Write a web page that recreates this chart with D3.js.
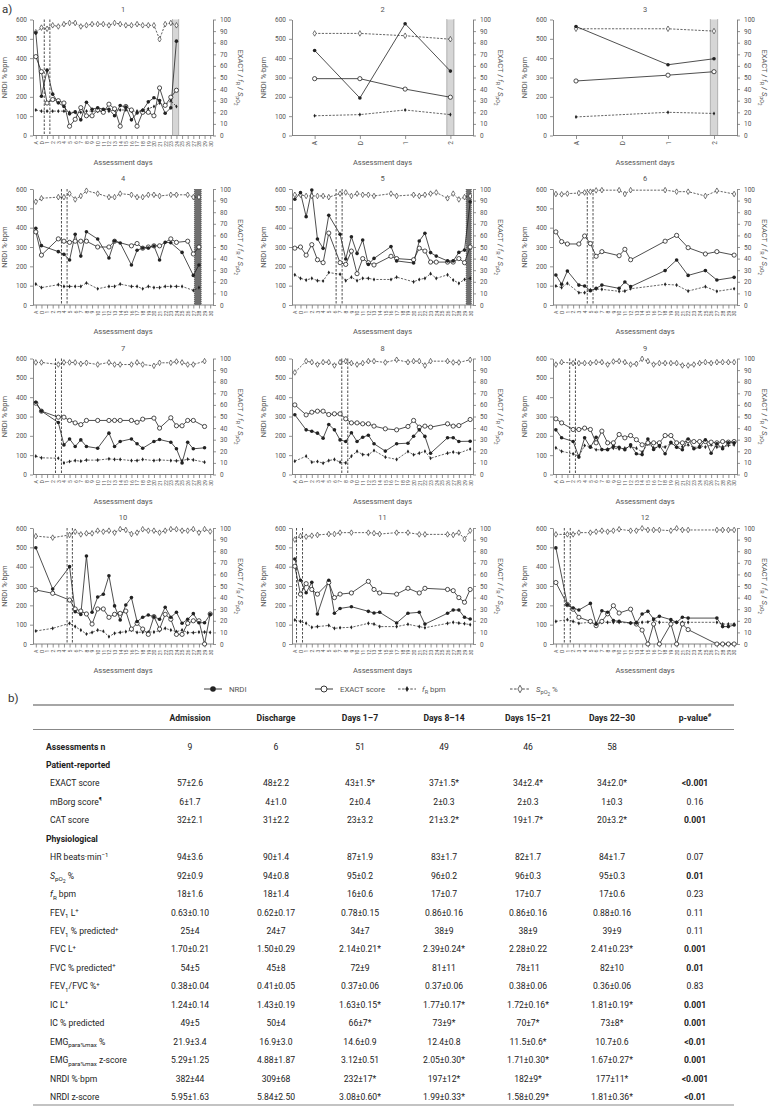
<!DOCTYPE html>
<html><head><meta charset="utf-8">
<script src="https://cdn.jsdelivr.net/npm/d3@7"></script>
<style>body{margin:0;background:#fff}svg{display:block}text{font-family:Roboto,"Noto Sans",sans-serif}</style>
</head><body><svg id="c" width="771" height="1112"></svg>
<script>
// ---------- categories ----------
const catsFull = ["A","D","1","2","3","4","5","6","7","8","9","10","11","12","13","14","15","16","17","18","19","20","21","22","23","24","25","26","27","28","29","30"];
const catsShort = ["A","D","1","2"];
const nrdiTicks = [0,100,200,300,400,500,600];
const rightTicks = [0,10,20,30,40,50,60,70,80,90,100];

// ---------- panel data ----------
const p1Days = ["A","D",1,2,3,4,5,6,7,8,9,10,11,12,13,14,15,16,17,18,19,20,21,22,23,24];
const p1Nrdi = [531,203,338,214,169,150,112,122,81,172,136,143,136,136,102,155,147,81,117,130,174,195,181,115,143,488];
const p1Exact = [68,55,28,31,30,28,8,14,24,17,17,22,20,27,23,8,25,22,8,20,20,17,41,26,33,39];
const p1Fr = [22,21,21,21,21,21,20,20,20,21,21,21,21,21,22,22,22,21,21,22,23,25,28,26,30,25];
const p1Spo2 = [89,93,92,95,94,96,97,97,94,95,96,96,96,95,97,96,95,95,96,95,95,95,83,96,97,95];

const p2Days = ["A","D",1,2];
const p2Nrdi = [440,194,578,333];
const p2Exact = [49,49,40,33];
const p2Fr = [17,18,22,18];
const p2Spo2 = [88,88,86,83];

const p3Days = ["A",1,2];
const p3Nrdi = [564,366,397];
const p3Exact = [47,52,55];
const p3Fr = [16,20,19];
const p3Spo2 = [92,92,90];

const p4Days = ["A","D",3,4,5,6,7,8,10,12,13,14,16,17,18,19,20,21,22,23,24,25,26,27,28];
const p4Nrdi = [397,307,276,262,233,366,253,379,341,243,331,321,207,283,295,295,305,233,324,322,null,272,null,153,207];
const p4Exact = [63,43,57,55,54,55,55,55,50,50,55,null,51,53,49,50,51,51,null,57,54,null,55,44,50];
const p4Fr = [18,15,17.5,16,16,16,16,19,14,16,16,18,16,16,14,16,15,15,16,16,16,16,null,12.6,15];
const p4Spo2 = [89,92,93,93,96,91,94,98.5,96,93,93,96,95,93,93,95,95,94,null,95,95,null,95,93,93];

const p5Days = ["A","D",1,2,3,4,5,7,8,9,10,11,12,13,16,17,20,21,22,23,24,26,27,28,29,30];
const p5Nrdi = [547,581,457,595,341,293,464,366,238,353,267,336,210,241,302,228,217,331,371,271,253,228,228,272,284,534];
const p5Exact = [49,50,43,52,39,36.5,62,36.5,35,46.5,27,40,36.5,34.5,42,40,39,49,46.5,37,37,37,37,40,36.5,50];
const p5Fr = [26,23,21.5,23,21,20.7,28,26.5,21,24,21,23,23,22,22,24,20,22,23,27,23,26,21.5,18.7,22,23];
const p5Spo2 = [95,95,94,94,94,94,93,96,97,94,96,95,95,94,96,94,95,94,95,96,97,92,96,91,93,94];

const p6Days = ["A","D",1,3,4,5,6,7,10,11,12,18,20,22,25,27,30];
const p6Nrdi = [155,107,176,103,98,74,86,103,86,119,95,178,233,153,178,129,143];
const p6Exact = [63,54.6,52.6,52.6,59.5,53,42,46,42.5,48,39,55,60,49.4,44,46,43];
const p6Fr = [16.4,15,18.7,10.6,10.6,13,13.8,13.5,11.8,12,14,17.8,17.2,12,15.8,11.8,14];
const p6Spo2 = [95.7,95.4,96,96.5,97,97.7,98.8,99,99,95.7,99,99,97.7,97.7,94,98.5,95.7];

const p7Days = ["A","D",3,4,5,6,7,8,10,12,13,14,16,17,18,20,21,23,24,25,26,27,29];
const p7Nrdi = [374,328,269,153,184,145,179,145,136,214,145,171,184,159,136,171,181,167,133,60,167,133,138];
const p7Exact = [61.5,54.6,49.4,49.4,46.6,44.5,43,46.6,46.6,46.6,46.6,46.6,46.6,45,47.7,48.6,40,48.9,42,42,46.6,46.6,41.4];
const p7Fr = [15.8,14.4,14,10,11.2,12,11.5,12.4,12.4,13.5,13,13,12,12,13,12,12.6,12,11.8,12,13.2,12.6,10.6];
const p7Spo2 = [96.6,96.6,94.8,96.6,96.6,96.6,95.4,96.3,94.8,96.6,94.8,94.8,94.8,96.6,94.8,93.7,96.3,96.3,97.4,96.6,94.8,94.8,97.7];

const p8Days = ["A",1,2,3,4,5,6,7,8,9,10,11,12,13,15,17,19,20,21,22,23,26,27,28,30];
const p8Nrdi = [309,231,224,214,188,259,231,179,171,216,171,193,203,159,121,159,162,198,231,197,110,190,190,171,172];
const p8Exact = [60,51.4,53.7,54.6,54.6,51.7,52.3,52.3,48,44.5,44.5,43.7,43.7,41.7,39.4,38.5,41.4,46.6,40.8,41.7,40.8,43.7,41.7,42.2,47.4];
const p8Fr = [11.5,15.8,10.6,11.2,9.8,12,13,10.6,10,15.8,20,17.2,17,20.7,15,13,19.8,17,18.4,20,14,18.4,19.3,18.4,22];
const p8Spo2 = [88,97.7,96.8,94.8,96.8,96.8,94,96.8,97.7,96,94.8,96,97.7,97.7,96.6,98.9,96.8,97.7,97.7,94,97.7,97.7,96.6,96.6,98.9];

const p9Days = ["A","D",2,3,4,5,6,7,8,9,10,11,12,13,14,15,16,17,18,19,20,21,22,23,24,25,26,27,28,29,30];
const p9Nrdi = [231,190,171,90,190,141,193,129,128,145,141,128,153,107,103,184,129,150,107,167,141,128,184,133,141,179,110,159,133,164,164];
const p9Exact = [48,44.5,38.8,38.8,40,38.8,27.3,37.4,27.3,27.3,34.5,31.6,33.6,30,25.6,27.3,27.3,27.3,33.6,33.6,27.3,27.3,29.3,28.4,28.4,28.4,27.9,27.3,28.4,27.9,28.4];
const p9Fr = [23,20,17.8,15.8,25,24,21.3,21.3,22,22.7,22,22.7,24,22.7,19.3,26.4,23,24,23.6,27,23.6,24,25.6,23,25,23.6,25.6,23.6,24,25,25.6];
const p9Spo2 = [94.8,96.8,96,96,96,96,96.8,96.8,94.8,97.4,97.7,96.8,94.8,95.4,99.7,97.7,94.8,96,96,96,96,94,94,94.8,96,96.8,96,96.8,96.8,96.8,96.8];

const p10Days = ["A",2,5,6,7,8,9,10,11,12,13,14,15,16,17,18,19,20,21,22,23,24,25,26,27,28,29,30];
const p10Nrdi = [498,284,400,167,153,455,164,243,257,353,197,124,202,240,116,138,150,141,128,190,138,164,107,128,157,110,110,153];
const p10Exact = [46.6,43.7,37.9,30.2,28.4,25.9,17.2,30.2,30.2,23,25.6,26.4,28.4,12.9,17.8,12.9,8.3,23.6,12.9,25.6,21.3,8.3,8.3,17.8,20,20,0,25.9];
const p10Fr = [11.2,13.5,17.8,15,12,8.6,10,12,11,6.3,9.2,10,10.6,12,10,10.3,10.3,10.3,11.5,13.5,12,10.6,12,9.8,9.8,10.3,10.3,10];
const p10Spo2 = [93,91.7,94,96.8,94.5,95.4,95.4,97.7,96.8,97.7,96,99,98.3,94.8,96,98.9,97.7,97.7,96,97.7,99,98.9,97.7,97.7,99,96,99,97];

const p11Days = ["A","D",1,2,3,5,6,7,9,12,13,14,17,19,21,22,26,27,28,29,30];
const p11Nrdi = [440,330,265,319,155,330,159,184,193,169,160,164,109,159,164,103,159,176,176,138,129];
const p11Exact = [67,43,52,47,43,53,40,43,44,54,47,44,43,48,44,48,47,46,40,36,47];
const p11Fr = [20.7,19.5,17.8,14.4,15,16,13.5,14,14.4,17.8,17.2,15,15,17,15,14,17.8,18.7,18,17.5,16.7];
const p11Spo2 = [90,93,92.5,93.4,94,94.8,94.8,96,96,96,95.5,94.8,96,96,94.5,94.5,94.5,94,96,90.5,97.7];

const p12Days = ["A",1,2,3,5,6,7,8,9,10,12,13,14,15,16,17,19,20,21,22,27,28,29,30];
const p12Nrdi = [497,203,186,176,210,103,172,164,121,117,109,109,155,169,129,143,126,112,138,134,134,90,90,98];
const p12Exact = [53,34,30,23,19.5,15.8,19.5,26,33,26.7,30,17.2,12,0,17.2,0,17.2,0,17.2,12.4,0,0,0,0];
const p12Fr = [19.5,21,19.5,17.8,18.7,17.8,18.7,18.7,18.7,18.7,18,18.7,18.7,19,20.7,18.7,18.7,18.7,18.7,18.7,18.7,17.2,17.2,17.2];
const p12Spo2 = [94.5,94.5,94.5,96,96,96.8,97.7,96.8,97.7,98.9,97.7,97.7,99.7,98.3,98.3,98.3,97.7,99.7,98.3,98.3,98.3,98.3,98.3,98.3];

// vertical event lines (fractional category index) and shaded periods
const eventLines = [[1.5,2.5],[],[],[4.56,5.56],[7.3,8.36],[5.46,6.46],[3.5,4.56],[8.3,9.36],[2.4,3.4],[5.56,6.5],[0.3,1.36],[1.47,2.5]];
const bands = [[24.3,25.4],[2.92,3.08],[2.92,3.08],[28.2,29.4],[30.3,31.2],null,null,null,null,null,null,null];
const bandDark = [false,false,false,true,true,false,false,false,false,false,false,false];

// ---------- table data ----------
const tableHeaders = ["Admission","Discharge","Days 1–7","Days 8–14","Days 15–21","Days 22–30","p-value#"];
const tableRows = [
  {label:[["Assessments n"]], bold:true, vals:["9","6","51","49","46","58",""]},
  {label:[["Patient-reported"]], bold:true, vals:null},
  {label:[["EXACT score"]], vals:["57±2.6","48±2.2","43±1.5*","37±1.5*","34±2.4*","34±2.0*","<0.001"], sig:true},
  {label:[["mBorg score"],["¶","sup"]], vals:["6±1.7","4±1.0","2±0.4","2±0.3","2±0.3","1±0.3","0.16"]},
  {label:[["CAT score"]], vals:["32±2.1","31±2.2","23±3.2","21±3.2*","19±1.7*","20±3.2*","0.001"], sig:true},
  {label:[["Physiological"]], bold:true, vals:null},
  {label:[["HR beats·min"],["−1","sup"]], vals:["94±3.6","90±1.4","87±1.9","83±1.7","82±1.7","84±1.7","0.07"]},
  {label:[["S","i"],["pO","sub"],["2","subsub"],[" %"]], vals:["92±0.9","94±0.8","95±0.2","96±0.2","96±0.3","95±0.3","0.01"], sig:true},
  {label:[["f","i"],["R","sub"],[" bpm"]], vals:["18±1.6","18±1.4","16±0.6","17±0.7","17±0.7","17±0.6","0.23"]},
  {label:[["FEV"],["1","sub"],[" L"],["+","sup"]], vals:["0.63±0.10","0.62±0.17","0.78±0.15","0.86±0.16","0.86±0.16","0.88±0.16","0.11"]},
  {label:[["FEV"],["1","sub"],[" % predicted"],["+","sup"]], vals:["25±4","24±7","34±7","38±9","38±9","39±9","0.11"]},
  {label:[["FVC L"],["+","sup"]], vals:["1.70±0.21","1.50±0.29","2.14±0.21*","2.39±0.24*","2.28±0.22","2.41±0.23*","0.001"], sig:true},
  {label:[["FVC % predicted"],["+","sup"]], vals:["54±5","45±8","72±9","81±11","78±11","82±10","0.01"], sig:true},
  {label:[["FEV"],["1","sub"],["/FVC %"],["+","sup"]], vals:["0.38±0.04","0.41±0.05","0.37±0.06","0.37±0.06","0.38±0.06","0.36±0.06","0.83"]},
  {label:[["IC L"],["+","sup"]], vals:["1.24±0.14","1.43±0.19","1.63±0.15*","1.77±0.17*","1.72±0.16*","1.81±0.19*","0.001"], sig:true},
  {label:[["IC % predicted"]], vals:["49±5","50±4","66±7*","73±9*","70±7*","73±8*","0.001"], sig:true},
  {label:[["EMG"],["para%max","sub"],[" %"]], vals:["21.9±3.4","16.9±3.0","14.6±0.9","12.4±0.8","11.5±0.6*","10.7±0.6","<0.01"], sig:true},
  {label:[["EMG"],["para%max","sub"],[" z-score"]], vals:["5.29±1.25","4.88±1.87","3.12±0.51","2.05±0.30*","1.71±0.30*","1.67±0.27*","0.001"], sig:true},
  {label:[["NRDI %·bpm"]], vals:["382±44","309±68","232±17*","197±12*","182±9*","177±11*","<0.001"], sig:true},
  {label:[["NRDI z-score"]], vals:["5.95±1.63","5.84±2.50","3.08±0.60*","1.99±0.33*","1.58±0.29*","1.81±0.36*","<0.01"], sig:true}
];

// ---------- drawing ----------
const svg = d3.select("#c");
const INK = "#222", AX = "#777", TXT = "#555";

function rich(t, segs, fs) {
  let off = 0;
  segs.forEach(([s, st]) => {
    let target = 0, size = fs;
    if (st === "sub") { target = fs * 0.3; size = fs * 0.72; }
    else if (st === "subsub") { target = fs * 0.5; size = fs * 0.6; }
    else if (st === "sup") { target = -fs * 0.4; size = fs * 0.7; }
    const ts = t.append("tspan").text(s).attr("font-size", size).attr("dy", target - off);
    if (st === "i") ts.attr("font-style", "italic");
    off = target;
  });
  return t;
}

const panels = [
  {days:p1Days, nrdi:p1Nrdi, exact:p1Exact, fr:p1Fr, spo2:p1Spo2, cats:catsFull},
  {days:p2Days, nrdi:p2Nrdi, exact:p2Exact, fr:p2Fr, spo2:p2Spo2, cats:catsShort},
  {days:p3Days, nrdi:p3Nrdi, exact:p3Exact, fr:p3Fr, spo2:p3Spo2, cats:catsShort},
  {days:p4Days, nrdi:p4Nrdi, exact:p4Exact, fr:p4Fr, spo2:p4Spo2, cats:catsFull},
  {days:p5Days, nrdi:p5Nrdi, exact:p5Exact, fr:p5Fr, spo2:p5Spo2, cats:catsFull},
  {days:p6Days, nrdi:p6Nrdi, exact:p6Exact, fr:p6Fr, spo2:p6Spo2, cats:catsFull},
  {days:p7Days, nrdi:p7Nrdi, exact:p7Exact, fr:p7Fr, spo2:p7Spo2, cats:catsFull},
  {days:p8Days, nrdi:p8Nrdi, exact:p8Exact, fr:p8Fr, spo2:p8Spo2, cats:catsFull},
  {days:p9Days, nrdi:p9Nrdi, exact:p9Exact, fr:p9Fr, spo2:p9Spo2, cats:catsFull},
  {days:p10Days, nrdi:p10Nrdi, exact:p10Exact, fr:p10Fr, spo2:p10Spo2, cats:catsFull},
  {days:p11Days, nrdi:p11Nrdi, exact:p11Exact, fr:p11Fr, spo2:p11Spo2, cats:catsFull},
  {days:p12Days, nrdi:p12Nrdi, exact:p12Exact, fr:p12Fr, spo2:p12Spo2, cats:catsFull}
];

const colX = [[33,213],[292,473],[553,737]];
const rowY = [[19.5,135.5],[189,305],[358.5,474.5],[528,644]];

const diamond = d3.symbol().type(d3.symbolDiamond);

panels.forEach((p, i) => {
  const [x0, x1] = colX[i % 3], [y0, y1] = rowY[Math.floor(i / 3)];
  const x = d3.scalePoint().domain(p.cats).range([x0, x1]).padding(0.5);
  const yL = d3.scaleLinear().domain([0, 600]).range([y1, y0]);
  const yR = d3.scaleLinear().domain([0, 100]).range([y1, y0]);
  const pos = f => x(p.cats[0]) + f * x.step();
  const g = svg.append("g");

  if (bands[i]) {
    const [b0, b1] = bands[i];
    g.append("rect").attr("x", pos(b0)).attr("y", y0).attr("width", pos(b1) - pos(b0)).attr("height", y1 - y0)
      .attr("fill", bandDark[i] ? "#6f6f6f" : "#d6d6d6");
    [b0, b1].forEach(b => g.append("line").attr("x1", pos(b)).attr("x2", pos(b)).attr("y1", y0).attr("y2", y1)
      .attr("stroke", "#333").attr("stroke-width", 0.6).attr("stroke-dasharray", "1,1"));
  }
  eventLines[i].forEach(f => g.append("line").attr("x1", pos(f)).attr("x2", pos(f)).attr("y1", y0).attr("y2", y1)
    .attr("stroke", INK).attr("stroke-width", 0.8).attr("stroke-dasharray", "2.5,1.5"));

  const styleAxis = a => {
    a.selectAll(".domain").attr("stroke", AX).attr("stroke-width", 0.9);
    a.selectAll(".tick line").attr("stroke", AX).attr("stroke-width", 0.8);
    a.selectAll(".tick text").attr("fill", TXT).attr("font-size", 6.5).attr("font-family", "Roboto,sans-serif");
  };
  const aL = g.append("g").attr("transform", `translate(${x0},0)`)
    .call(d3.axisLeft(yL).tickValues(nrdiTicks).tickSize(3).tickSizeOuter(0).tickPadding(3));
  styleAxis(aL);
  const aR = g.append("g").attr("transform", `translate(${x1},0)`)
    .call(d3.axisRight(yR).tickValues(rightTicks).tickSize(3).tickSizeOuter(0).tickPadding(4));
  styleAxis(aR);
  const aB = g.append("g").attr("transform", `translate(0,${y1})`)
    .call(d3.axisBottom(x).tickSize(3.5).tickSizeOuter(0));
  styleAxis(aB);
  aB.select(".domain").attr("d", `M${x0},0H${x1}`);
  aB.selectAll(".tick text").attr("font-size", p.cats.length > 4 ? 5.2 : 6.5)
    .attr("transform", "rotate(-90)").attr("text-anchor", "end").attr("x", -5.5).attr("y", 0).attr("dy", "0.35em");

  const cx = (x0 + x1) / 2, cy = (y0 + y1) / 2;
  g.append("text").attr("x", cx).attr("y", y0 - 8).attr("text-anchor", "middle").attr("font-size", 7.5).attr("fill", TXT).text(String(i + 1));
  g.append("text").attr("x", cx).attr("y", y1 + 29).attr("text-anchor", "middle").attr("font-size", 7.5).attr("fill", TXT).text("Assessment days");
  g.append("text").attr("transform", `translate(${x0 - 26},${cy}) rotate(-90)`).attr("text-anchor", "middle")
    .attr("font-size", 7.5).attr("fill", TXT).text("NRDI %·bpm");
  rich(g.append("text").attr("transform", `translate(${x1 + 25},${cy}) rotate(90)`).attr("text-anchor", "middle").attr("fill", TXT),
    [["EXACT / "],["f","i"],["R","sub"],[" / "],["S","i"],["pO","sub"],["2","subsub"]], 7.5);

  const pts = (vals, sc) => p.days.map((d, k) => ({x: x(String(d)), y: vals[k] == null ? null : sc(vals[k])})).filter(d => d.y != null);
  const line = d3.line().x(d => d.x).y(d => d.y);
  const sNrdi = pts(p.nrdi, yL), sExact = pts(p.exact, yR), sFr = pts(p.fr, yR), sSp = pts(p.spo2, yR);
  g.append("path").attr("d", line(sSp)).attr("fill", "none").attr("stroke", INK).attr("stroke-width", 0.7).attr("stroke-dasharray", "2.2,1.4");
  g.append("path").attr("d", line(sFr)).attr("fill", "none").attr("stroke", INK).attr("stroke-width", 0.7).attr("stroke-dasharray", "2.2,1.4");
  g.append("path").attr("d", line(sExact)).attr("fill", "none").attr("stroke", INK).attr("stroke-width", 0.8);
  g.append("path").attr("d", line(sNrdi)).attr("fill", "none").attr("stroke", INK).attr("stroke-width", 0.8);
  g.selectAll(null).data(sSp).join("path").attr("transform", d => `translate(${d.x},${d.y})`)
    .attr("d", diamond.size(9)()).attr("fill", "#fff").attr("stroke", INK).attr("stroke-width", 0.6);
  g.selectAll(null).data(sFr).join("path").attr("transform", d => `translate(${d.x},${d.y})`)
    .attr("d", diamond.size(5)()).attr("fill", INK);
  g.selectAll(null).data(sExact).join("circle").attr("cx", d => d.x).attr("cy", d => d.y).attr("r", 2.1)
    .attr("fill", "#fff").attr("stroke", INK).attr("stroke-width", 0.8);
  g.selectAll(null).data(sNrdi).join("circle").attr("cx", d => d.x).attr("cy", d => d.y).attr("r", 1.8).attr("fill", INK);
});

svg.append("text").attr("x", 2).attr("y", 13).attr("font-size", 11.5).attr("fill", "#333").text("a)");

// legend
const ly = 689;
const lg = svg.append("g");
lg.append("line").attr("x1", 204).attr("x2", 222).attr("y1", ly).attr("y2", ly).attr("stroke", INK).attr("stroke-width", 0.9);
lg.append("circle").attr("cx", 213).attr("cy", ly).attr("r", 2.8).attr("fill", INK);
lg.append("text").attr("x", 229).attr("y", ly + 2.7).attr("font-size", 7.8).attr("fill", TXT).text("NRDI");
lg.append("line").attr("x1", 315).attr("x2", 333).attr("y1", ly).attr("y2", ly).attr("stroke", INK).attr("stroke-width", 0.9);
lg.append("circle").attr("cx", 324).attr("cy", ly).attr("r", 3).attr("fill", "#fff").attr("stroke", INK).attr("stroke-width", 0.9);
lg.append("text").attr("x", 340).attr("y", ly + 2.7).attr("font-size", 7.8).attr("fill", TXT).text("EXACT score");
lg.append("line").attr("x1", 398).attr("x2", 416).attr("y1", ly).attr("y2", ly).attr("stroke", INK).attr("stroke-width", 0.8).attr("stroke-dasharray", "2.5,1.6");
lg.append("path").attr("transform", `translate(407,${ly})`).attr("d", diamond.size(10)()).attr("fill", INK);
rich(lg.append("text").attr("x", 422).attr("y", ly + 2.7).attr("fill", TXT), [["f","i"],["R","sub"],[" bpm"]], 7.8);
lg.append("line").attr("x1", 510).attr("x2", 529).attr("y1", ly).attr("y2", ly).attr("stroke", INK).attr("stroke-width", 0.8).attr("stroke-dasharray", "2.5,1.6");
lg.append("path").attr("transform", `translate(520,${ly})`).attr("d", diamond.size(16)()).attr("fill", "#fff").attr("stroke", INK).attr("stroke-width", 0.7);
rich(lg.append("text").attr("x", 536).attr("y", ly + 2.7).attr("fill", TXT), [["S","i"],["pO","sub"],["2","subsub"],[" %"]], 7.8);

// ---------- table ----------
svg.append("text").attr("x", 8).attr("y", 702).attr("font-size", 11.5).attr("fill", "#333").text("b)");
const colCx = [190, 276, 360, 444, 528, 612, 695];
const tx0 = 33, tx1 = 734;
const tg = svg.append("g");
tg.append("line").attr("x1", tx0).attr("x2", tx1).attr("y1", 705).attr("y2", 705).attr("stroke", "#888").attr("stroke-width", 1.5);
tg.append("line").attr("x1", tx0).attr("x2", tx1).attr("y1", 729.5).attr("y2", 729.5).attr("stroke", "#888").attr("stroke-width", 1.2);
tableHeaders.forEach((h, k) => {
  const t = tg.append("text").attr("x", colCx[k]).attr("y", 720.5).attr("text-anchor", "middle").attr("font-weight", "bold").attr("fill", "#222");
  if (h.endsWith("#")) rich(t, [[h.slice(0, -1)], ["#", "sup"]], 8.6); else t.attr("font-size", 8.6).text(h);
});
const rowStep = 18.45, row0 = 749.5;
tableRows.forEach((r, k) => {
  const y = row0 + k * rowStep;
  const lt = tg.append("text").attr("x", r.bold ? 46 : 50).attr("y", y).attr("fill", "#222");
  if (r.bold) lt.attr("font-weight", "bold");
  rich(lt, r.label, 8.6);
  if (r.vals) r.vals.forEach((v, c) => {
    const t = tg.append("text").attr("x", colCx[c]).attr("y", y).attr("text-anchor", "middle").attr("font-size", 8.6).attr("fill", "#222").text(v);
    if (c === 6 && r.sig) t.attr("font-weight", "bold");
  });
});
tg.append("line").attr("x1", tx0).attr("x2", tx1).attr("y1", 1105).attr("y2", 1105).attr("stroke", "#888").attr("stroke-width", 1.2);
</script></body></html>
